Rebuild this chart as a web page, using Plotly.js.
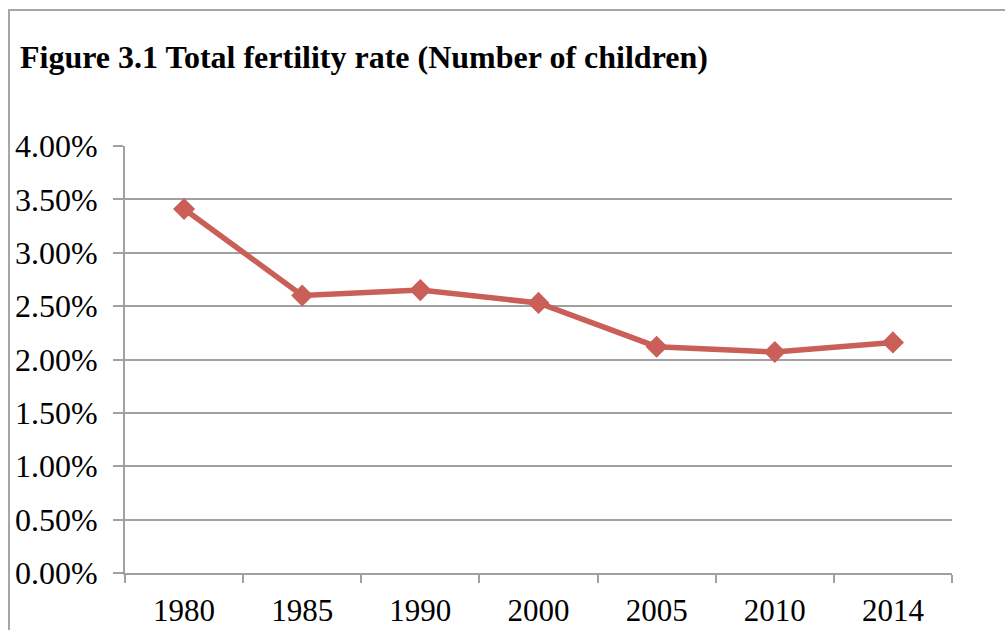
<!DOCTYPE html>
<html>
<head>
<meta charset="utf-8">
<script src="https://cdn.plot.ly/plotly-3.0.1.min.js"></script>
<style>
  html, body { margin: 0; padding: 0; width: 1005px; height: 630px; overflow: hidden; background: #fff; }
  #frame { position: absolute; left: 8px; top: 9px; width: 1200px; height: 800px;
           border-left: 2px solid #A6A6A6; border-top: 2px solid #A6A6A6; }
  #chart { position: absolute; left: 0; top: 0; width: 1005px; height: 630px; }
</style>
</head>
<body>
<div id="frame"></div>
<div id="chart"></div>
<script>
// Total fertility rate by year
const years = ['1980', '1985', '1990', '2000', '2005', '2010', '2014'];
const fertilityRate = [0.0341, 0.0260, 0.0265, 0.0253, 0.0212, 0.0207, 0.0216];
const yTicks = [0, 0.005, 0.01, 0.015, 0.02, 0.025, 0.03, 0.035, 0.04];

const serif = 'Liberation Serif, Times New Roman, serif';
const gridGray = '#A0A0A0';
const lineRed = '#C95F57';

const trace = {
  type: 'scatter',
  mode: 'lines+markers',
  x: years,
  y: fertilityRate,
  line: { color: lineRed, width: 5.5 },
  marker: { symbol: 'diamond', size: 17, color: lineRed },
  hoverinfo: 'x+y'
};

const layout = {
  width: 1005,
  height: 630,
  margin: { l: 125, r: 53, t: 146, b: 57 },
  paper_bgcolor: 'rgba(0,0,0,0)',
  plot_bgcolor: 'rgba(0,0,0,0)',
  showlegend: false,
  title: {
    text: '<b>Figure 3.1 Total fertility rate (Number of children)</b>',
    font: { family: serif, size: 32, color: '#000' },
    xref: 'container', x: 20 / 1005, xanchor: 'left',
    yref: 'container', y: 1 - 57 / 630, yanchor: 'middle'
  },
  xaxis: {
    type: 'category',
    range: [-0.5, years.length - 0.5],
    showgrid: false,
    showline: true, linecolor: gridGray, linewidth: 2,
    ticks: 'outside', tickson: 'boundaries', ticklen: 8, tickwidth: 2, tickcolor: gridGray,
    tickfont: { family: serif, size: 31, color: '#000' },
    ticklabelstandoff: 9,
    zeroline: false, fixedrange: true
  },
  yaxis: {
    range: [0, 0.04],
    tickvals: yTicks,
    tickformat: '.2%',
    showgrid: true, gridcolor: gridGray, gridwidth: 2,
    showline: true, linecolor: gridGray, linewidth: 2,
    ticks: 'outside', ticklen: 10, tickwidth: 2, tickcolor: gridGray,
    tickfont: { family: serif, size: 32, color: '#000' },
    ticklabelstandoff: 9,
    zeroline: false, fixedrange: true
  }
};

Plotly.newPlot('chart', [trace], layout, { displayModeBar: false, staticPlot: true });
</script>
</body>
</html>
